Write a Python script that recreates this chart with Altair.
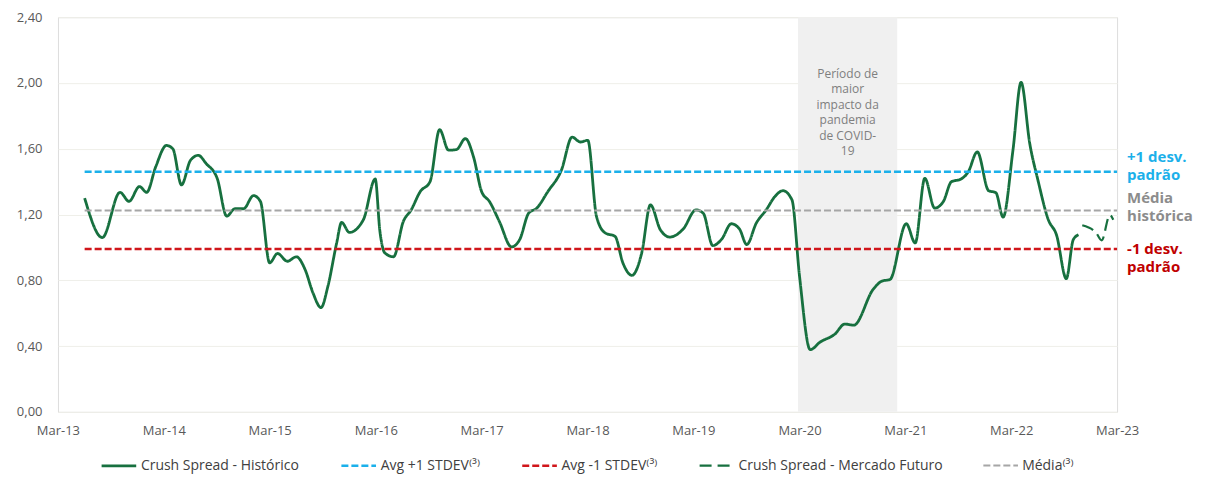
import altair as alt
import pandas as pd

# ---------------- data ----------------
hist_dates = [
    "2013-06-01", "2013-08-01", "2013-10-01", "2013-11-01", "2013-12-07", "2014-01-01",
    "2014-02-01", "2014-03-10", "2014-04-01", "2014-05-01", "2014-06-01", "2014-06-28",
    "2014-07-25", "2014-09-01", "2014-10-04", "2014-11-01", "2014-12-01", "2015-01-04",
    "2015-01-28", "2015-03-01", "2015-03-28", "2015-05-01", "2015-06-01", "2015-07-01",
    "2015-07-28", "2015-08-25", "2015-09-18", "2015-10-18", "2015-11-04", "2015-12-01",
    "2016-01-18", "2016-02-28", "2016-03-15", "2016-04-01", "2016-05-01", "2016-06-04",
    "2016-07-01", "2016-08-01", "2016-09-04", "2016-10-07", "2016-11-07", "2016-12-04",
    "2017-01-04", "2017-02-01", "2017-03-01", "2017-03-28", "2017-05-01", "2017-06-12",
    "2017-07-10", "2017-08-10", "2017-09-07", "2017-10-15", "2017-12-01", "2018-01-07",
    "2018-02-04", "2018-03-02", "2018-04-01", "2018-05-01", "2018-06-04", "2018-07-01",
    "2018-08-01", "2018-09-04", "2018-10-04", "2018-11-07", "2018-12-10", "2019-01-25",
    "2019-03-10", "2019-04-04", "2019-05-07", "2019-06-07", "2019-07-10", "2019-08-07",
    "2019-09-01", "2019-10-04", "2019-11-07", "2019-12-07", "2020-01-04", "2020-02-04",
    "2020-03-01", "2020-04-07", "2020-05-10", "2020-07-01", "2020-08-04", "2020-09-04",
    "2020-11-10", "2020-12-10", "2021-01-07", "2021-03-04", "2021-04-04", "2021-05-07",
    "2021-06-10", "2021-07-10", "2021-08-07", "2021-09-07", "2021-10-04", "2021-11-04",
    "2021-12-13", "2022-01-07", "2022-02-01", "2022-03-07", "2022-04-04", "2022-05-04",
    "2022-06-01", "2022-07-07", "2022-08-04", "2022-09-07", "2022-10-01", "2022-10-19",
]
hist_values = [
    1.30, 1.06, 1.335, 1.28, 1.37, 1.335,
    1.49, 1.62, 1.60, 1.38, 1.53, 1.56,
    1.51, 1.42, 1.19, 1.235, 1.235, 1.315,
    1.28, 0.906, 0.963, 0.916, 0.943, 0.866,
    0.725, 0.634, 0.765, 1.027, 1.152, 1.091,
    1.168, 1.416, 1.10, 0.967, 0.943, 1.158,
    1.228, 1.339, 1.40, 1.716, 1.591, 1.595,
    1.662, 1.55, 1.339, 1.279, 1.158, 1.003,
    1.047, 1.208, 1.239, 1.339, 1.47, 1.671,
    1.641, 1.651, 1.188, 1.088, 1.067, 0.906,
    0.83, 0.967, 1.259, 1.108, 1.063, 1.112,
    1.228, 1.208, 1.011, 1.051, 1.144, 1.112,
    1.017, 1.148, 1.228, 1.309, 1.345, 1.289,
    0.826, 0.378, 0.423, 0.473, 0.534, 0.527,
    0.745, 0.795, 0.805, 1.144, 1.027, 1.42,
    1.239, 1.279, 1.40, 1.414, 1.46, 1.581,
    1.345, 1.333, 1.184, 1.591, 2.004, 1.631,
    1.41, 1.168, 1.077, 0.81, 1.047, 1.077,
]

fut_dates = ["2022-11-01", "2022-12-19", "2023-01-07", "2023-02-04", "2023-02-16"]
fut_values = [1.135, 1.088, 1.043, 1.198, 1.168]

level_start = "2013-06-01"
level_end = "2023-03-01"
level_up = 1.46
level_avg = 1.224
level_dn = 0.99

series_names = [
    "Crush Spread - Histórico",
    "Avg +1 STDEV⁽³⁾",
    "Avg -1 STDEV⁽³⁾",
    "Crush Spread - Mercado Futuro",
    "Média⁽³⁾",
]
series_colors = ["#17703f", "#1bb0ea", "#d0161b", "#17703f", "#a6a6a6"]
series_dash = [[1, 0], [7, 3], [7, 3], [12, 6], [7, 3]]
series_width = [2.8, 2, 2, 2.8, 2]

covid_start = "2020-02-25"
covid_end = "2021-02-01"
covid_label = "Período de\nmaior\nimpacto da\npandemia\nde COVID-\n19"
covid_label_date = "2020-08-14"
covid_label_value = 2.056

side_labels = ["+1 desv.\npadrão", "Média\nhistórica", "-1 desv.\npadrão"]
side_values = [1.46, 1.224, 0.99]
side_colors = ["#1bb0ea", "#8c8c8c", "#c00000"]
side_dy = [-15, -13, 0]

y_ticks = [0, 0.4, 0.8, 1.2, 1.6, 2.0, 2.4]
x_tick_years = list(range(2013, 2024))

# ---------------- tables ----------------
rows = []
for d, v in zip(hist_dates, hist_values):
    rows.append({"series": series_names[0], "date": d, "value": v})
for d, v in zip(fut_dates, fut_values):
    rows.append({"series": series_names[3], "date": d, "value": v})
for name, lvl in [(series_names[1], level_up), (series_names[2], level_dn), (series_names[4], level_avg)]:
    rows.append({"series": name, "date": level_start, "value": lvl})
    rows.append({"series": name, "date": level_end, "value": lvl})
lines_df = pd.DataFrame(rows)

rect_df = pd.DataFrame({"start": [covid_start], "end": [covid_end], "top": [2.4], "bottom": [0.0]})
covid_df = pd.DataFrame({"date": [covid_label_date], "value": [covid_label_value], "label": [covid_label]})

FONT = "Open Sans"
W, H = 1060, 395

x_scale = alt.Scale(
    type="utc",
    domain=[alt.DateTime(year=2013, month=3, date=1, utc=True),
            alt.DateTime(year=2023, month=3, date=1, utc=True)],
)
y_scale = alt.Scale(domain=[0, 2.4], nice=False)

x_axis = alt.Axis(
    values=[alt.DateTime(year=y, month=3, date=1, utc=True) for y in x_tick_years],
    labelExpr="utcFormat(datum.value, '%b-%y')", title=None, grid=False, domain=False, ticks=False,
    labelFlush=False, labelOverlap=False,
    labelPadding=13, labelFontSize=13, labelColor="#595959", labelFont=FONT,
)
y_axis = alt.Axis(
    values=y_ticks, title=None, domain=False, ticks=False,
    labelExpr="replace(format(datum.value, '.2f'), '.', ',')",
    labelPadding=16, labelFontSize=13, labelColor="#595959", labelFont=FONT,
    gridColor="#efefe9", gridWidth=1, minExtent=45, maxExtent=45,
)

legend_kw = dict(title=None, orient="none", direction="horizontal",
                 legendX=42, legendY=430, symbolType="stroke",
                 symbolSize=1200, symbolStrokeWidth=2.5,
                 labelFontSize=14, labelColor="#404040", labelFont=FONT, labelLimit=0,
                 columnPadding=36, labelOffset=3, padding=0)

rect = alt.Chart(rect_df).mark_rect(color="#f0f0f0").encode(
    x=alt.X("start:T", scale=x_scale, axis=x_axis),
    x2="end:T",
    y=alt.Y("top:Q", scale=y_scale, axis=y_axis),
    y2="bottom:Q",
)

lines = alt.Chart(lines_df).mark_line(interpolate="monotone").encode(
    x=alt.X("date:T", scale=x_scale, axis=x_axis),
    y=alt.Y("value:Q", scale=y_scale, axis=y_axis),
    color=alt.Color("series:N", scale=alt.Scale(domain=series_names, range=series_colors),
                    legend=alt.Legend(**legend_kw)),
    strokeDash=alt.StrokeDash("series:N", scale=alt.Scale(domain=series_names, range=series_dash),
                              legend=alt.Legend(**legend_kw)),
    strokeWidth=alt.StrokeWidth("series:N", scale=alt.Scale(domain=series_names, range=series_width),
                                legend=None),
)

covid_text = alt.Chart(covid_df).mark_text(
    font=FONT, fontSize=12, color="#7f7f7f", lineBreak="\n", lineHeight=15.5,
    align="center", baseline="middle",
).encode(
    x=alt.X("date:T", scale=x_scale, axis=x_axis),
    y=alt.Y("value:Q", scale=y_scale, axis=y_axis),
    text="label:N",
)

side_layers = []
for lab, val, col, dy in zip(side_labels, side_values, side_colors, side_dy):
    df = pd.DataFrame({"label": [lab], "value": [val]})
    side_layers.append(
        alt.Chart(df).mark_text(
            font=FONT, fontSize=15, fontWeight="bold", lineBreak="\n", lineHeight=18,
            align="left", baseline="middle", color=col, dy=dy,
        ).encode(
            x=alt.value(W + 10),
            y=alt.Y("value:Q", scale=y_scale, axis=y_axis),
            text="label:N",
        )
    )

chart = alt.layer(rect, lines, covid_text, *side_layers).properties(
    width=W, height=H, padding={"left": 5, "top": 3, "right": 5, "bottom": 5},
).configure_view(stroke=None).configure(font=FONT)

chart.save("out.html", embed_options={"renderer": "svg", "actions": False})
